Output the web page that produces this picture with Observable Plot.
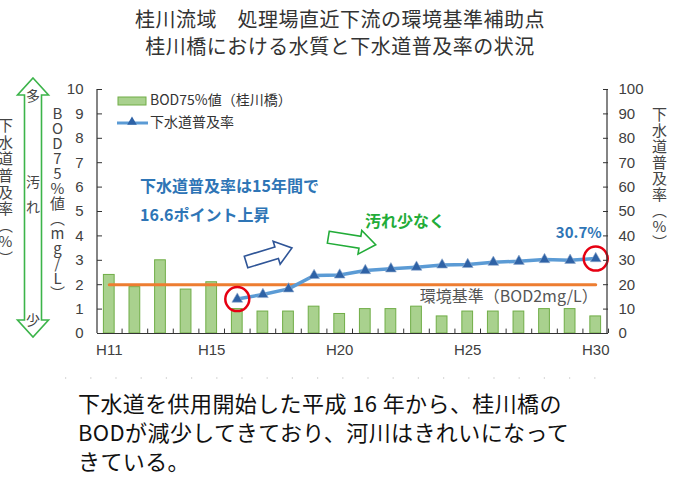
<!DOCTYPE html>
<html><head><meta charset="utf-8">
<script src="https://cdn.jsdelivr.net/npm/d3@7"></script>
<script src="https://cdn.jsdelivr.net/npm/@observablehq/plot@0.6"></script>
<style>
body{margin:0;background:#fff;}
#wrap{position:relative;width:680px;height:477px;overflow:hidden;font-family:"Noto Sans CJK JP","Noto Sans",sans-serif;color:#333;}
.abs{position:absolute;}
.vert{writing-mode:vertical-rl;text-orientation:upright;white-space:nowrap;}
#title{left:0;top:5px;width:680px;text-align:center;font-size:20px;line-height:27px;color:#333;letter-spacing:0.5px;}
#caption{left:78px;top:388px;font-size:22px;line-height:29px;color:#111;letter-spacing:0.4px;}
#chart{left:0;top:0;}
#overlay{left:0;top:0;}
</style></head><body>
<div id="wrap">
  <div id="title" class="abs">桂川流域　処理場直近下流の環境基準補助点<br>桂川橋における水質と下水道普及率の状況</div>
  <div id="chart" class="abs"></div>
  <svg id="overlay" class="abs" width="680" height="477"></svg>
  <div class="abs vert" style="left:-5px;top:118px;font-size:15px;letter-spacing:1.6px;color:#444;">下水道普及率（%）</div>
  <div class="abs vert" style="left:47px;top:106px;font-size:15px;color:#444;">BOD75%値（mg/L）</div>
  <div class="abs vert" style="left:649px;top:107px;font-size:15px;letter-spacing:1px;color:#444;">下水道普及率（%）</div>
  <div id="caption" class="abs">下水道を供用開始した平成 16 年から、桂川橋の<br>BODが減少してきており、河川はきれいになって<br>きている。</div>
</div>
<script>
// ---- data ----
const years = ["H11","H12","H13","H14","H15","H16","H17","H18","H19","H20","H21","H22","H23","H24","H25","H26","H27","H28","H29","H30"];
const bod75 = [2.4,1.9,3.0,1.8,2.1,1.0,0.9,0.9,1.1,0.8,1.0,1.0,1.1,0.7,0.9,0.9,0.9,1.0,1.0,0.7];
const sewerYears = ["H16","H17","H18","H19","H20","H21","H22","H23","H24","H25","H26","H27","H28","H29","H30"];
const sewerPct = [14.1,16.0,18.3,23.8,24.0,25.8,26.5,27.2,28.1,28.3,29.2,29.6,30.3,30.0,30.7];
const standardBOD = 2;
const xTickLabels = ["H11","H15","H20","H25","H30"];
const leftTicks = [0,1,2,3,4,5,6,7,8,9,10];
const rightTickLabels = [0,10,20,30,40,50,60,70,80,90,100];
const legendLabels = ["BOD75%値（桂川橋）","下水道普及率"];
const stdLabel = "環境基準（BOD2mg/L）";

// ---- derived tables ----
const bodData = years.map((y,i)=>({year:y, bod:bod75[i]}));
const sewerData = sewerYears.map((y,i)=>({year:y, pct:sewerPct[i], v:sewerPct[i]/10}));
const stdData = [{year:years[0], v:standardBOD},{year:years[years.length-1], v:standardBOD}];
const highlight = [sewerData[0], sewerData[sewerData.length-1]];
const lastPt = [sewerData[sewerData.length-1]];

const W = 680, H = 372, ML = 97, MR = 73, MT = 89, MB = 39;
const PI = 0.58, PO = 0.25;
const step = (W-ML-MR)/(years.length - PI + 2*PO);

const plot = Plot.plot({
  width:W, height:H,
  marginLeft:ML, marginRight:MR, marginTop:MT, marginBottom:MB,
  style:{fontFamily:'"Liberation Sans", Arial, sans-serif', fontSize:"15px", color:"#404040", background:"transparent"},
  x:{type:"band", domain:years, paddingInner:PI, paddingOuter:PO, round:false},
  y:{domain:[0,10]},
  marks:[
    Plot.barY(bodData,{x:"year", y:"bod", fill:"#a9d18e", stroke:"#70ad47", strokeWidth:1}),
    Plot.line(stdData,{x:"year", y:"v", stroke:"#ed7d31", strokeWidth:3}),
    Plot.line(sewerData,{x:"year", y:"v", stroke:"#5b9bd5", strokeWidth:3.5}),
    Plot.dot(sewerData,{x:"year", y:"v", symbol:"triangle", r:4, fill:"#2e62a6", stroke:"#8fa9cc", strokeWidth:0.6}),
    Plot.dot(highlight,{x:"year", y:"v", r:12, stroke:"#e60012", strokeWidth:2.5, fill:"none"}),
    Plot.text(lastPt,{x:"year", y:"v", text:d=>d.pct+"%", dy:-25, dx:6, textAnchor:"end", fill:"#2e75b6", fontWeight:"bold", fontSize:15, fontFamily:'"Noto Sans CJK JP", sans-serif'}),
    Plot.text([stdData[1]],{x:"year", y:"v", text:()=>stdLabel, dy:12, dx:2, textAnchor:"end", fill:"#555", fontSize:16, fontFamily:'"Noto Sans CJK JP", sans-serif'}),
    Plot.ruleX(years,{x:d=>d, y1:0, y2:0.18, dx:step/2, stroke:"#333"}),
    Plot.ruleY([0],{stroke:"#333", strokeWidth:1.2}),
    Plot.axisY({anchor:"left", ticks:leftTicks, tickSize:-5, tickPadding:19, label:null, stroke:"#333"}),
    Plot.axisY({anchor:"right", ticks:leftTicks, tickFormat:d=>rightTickLabels[leftTicks.indexOf(d)], tickSize:-5, tickPadding:16, label:null, stroke:"#333"}),
    Plot.axisX({ticks:xTickLabels, tickSize:0, tickPadding:11, label:null})
  ]
});
document.getElementById("chart").appendChild(plot);

const xs = plot.scale("x"), ys = plot.scale("y");
const [x0, x1] = xs.range;
const [yb, yt] = ys.range;
const svgP = d3.select(plot);
svgP.append("line").attr("x1",x0).attr("x2",x0).attr("y1",yb).attr("y2",yt).attr("stroke","#333").attr("stroke-width",1.2);
svgP.append("line").attr("x1",x1).attr("x2",x1).attr("y1",yb).attr("y2",yt).attr("stroke","#333").attr("stroke-width",1.2);

// ---- overlay annotations ----
const ov = d3.select("#overlay");
const cjk = '"Noto Sans CJK JP", sans-serif';

// legend
ov.append("rect").attr("x",118).attr("y",97).attr("width",28).attr("height",8).attr("fill","#a9d18e").attr("stroke","#70ad47");
ov.append("text").attr("x",150).attr("y",101).attr("dominant-baseline","middle").attr("font-size",14).attr("font-family",cjk).attr("fill","#333").text(legendLabels[0]);
ov.append("line").attr("x1",117).attr("x2",148).attr("y1",123).attr("y2",123).attr("stroke","#5b9bd5").attr("stroke-width",3);
ov.append("path").attr("d",d3.symbol(d3.symbolTriangle,40)()).attr("transform","translate(132,122)").attr("fill","#2e62a6");
ov.append("text").attr("x",150).attr("y",123).attr("dominant-baseline","middle").attr("font-size",14).attr("font-family",cjk).attr("fill","#333").text(legendLabels[1]);

// annotation texts
ov.append("text").attr("x",140).attr("y",188).attr("dominant-baseline","middle").attr("font-size",16).attr("font-weight","bold").attr("font-family",cjk).attr("fill","#2e75b6").text("下水道普及率は15年間で");
ov.append("text").attr("x",140).attr("y",217).attr("dominant-baseline","middle").attr("font-size",16).attr("font-weight","bold").attr("font-family",cjk).attr("fill","#2e75b6").text("16.6ポイント上昇");
ov.append("text").attr("x",365).attr("y",223).attr("dominant-baseline","middle").attr("font-size",16).attr("font-weight","bold").attr("font-family",cjk).attr("fill","#22ac38").text("汚れ少なく");

// block arrows
const blockArrow = "M-24,-6 L8,-6 L8,-12 L24,0 L8,12 L8,6 L-24,6 Z";
ov.append("path").attr("d",blockArrow).attr("transform","translate(269,255) rotate(-17)").attr("fill","#fff").attr("stroke","#2f5597").attr("stroke-width",1.6);
ov.append("path").attr("d",blockArrow).attr("transform","translate(352,241) rotate(9)").attr("fill","#fff").attr("stroke","#22ac38").attr("stroke-width",1.6);

// vertical double arrow
const ax = 33, aTop = 78, aBot = 337;
const dbl = `M${ax},${aTop} L${ax+15.5},${aTop+17} L${ax+8.5},${aTop+17} L${ax+8.5},${aBot-17} L${ax+15.5},${aBot-17} L${ax},${aBot} L${ax-15.5},${aBot-17} L${ax-8.5},${aBot-17} L${ax-8.5},${aTop+17} L${ax-15.5},${aTop+17} Z`;
ov.append("path").attr("d",dbl).attr("fill","#fff").attr("stroke","#3cb44a").attr("stroke-width",1.6);
[["多",97],["汚",183],["れ",208],["少",321]].forEach(([t,y])=>{
  ov.append("text").attr("x",ax).attr("y",y).attr("text-anchor","middle").attr("dominant-baseline","middle").attr("font-size",14).attr("font-family",cjk).attr("fill","#444").text(t);
});

// dotted separator
ov.append("line").attr("x1",65).attr("x2",600).attr("y1",378).attr("y2",378).attr("stroke","#bbb").attr("stroke-width",1.2).attr("stroke-dasharray","1.2,24");
</script>
</body></html>
